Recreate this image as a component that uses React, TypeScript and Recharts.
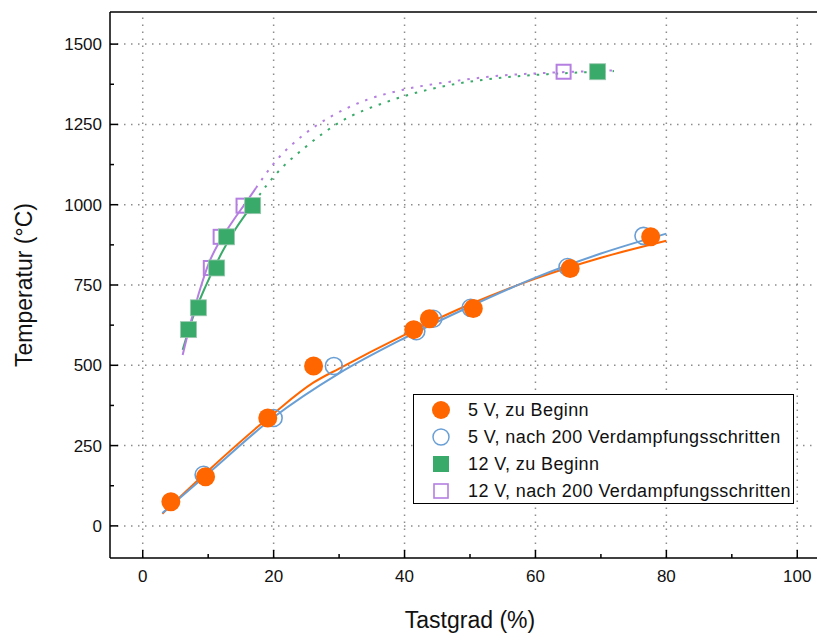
import React from "react"
import {
  ComposedChart,
  XAxis,
  YAxis,
  Scatter,
  Line,
  ReferenceLine,
  Legend,
  Label,
} from "recharts"

// measured points
const v5Start = [
  { x: 4.3, y: 75 },
  { x: 9.6, y: 153 },
  { x: 19.1, y: 336 },
  { x: 26.1, y: 498 },
  { x: 41.4, y: 611 },
  { x: 43.8, y: 645 },
  { x: 50.5, y: 677 },
  { x: 65.3, y: 801 },
  { x: 77.6, y: 900 },
]
const v5After = [
  { x: 9.3, y: 159 },
  { x: 20, y: 336 },
  { x: 29.2, y: 498 },
  { x: 41.8, y: 606 },
  { x: 44.4, y: 645 },
  { x: 50.1, y: 679 },
  { x: 64.9, y: 806 },
  { x: 76.5, y: 903 },
]
const v12Start = [
  { x: 7, y: 611 },
  { x: 8.5, y: 679 },
  { x: 11.3, y: 803 },
  { x: 12.8, y: 900 },
  { x: 16.8, y: 997 },
  { x: 69.5, y: 1414 },
]
const v12After = [
  { x: 10.4, y: 803 },
  { x: 11.9, y: 900 },
  { x: 15.4, y: 997 },
  { x: 64.3, y: 1414 },
]

// fit curves
const fit5Start = [
  { x: 3, y: 38 },
  { x: 10, y: 172 },
  { x: 20, y: 350 },
  { x: 26, y: 445 },
  { x: 30, y: 490 },
  { x: 40, y: 595 },
  { x: 50, y: 690 },
  { x: 60, y: 770 },
  { x: 70, y: 835 },
  { x: 80, y: 888 },
]
const fit5After = [
  { x: 3, y: 40 },
  { x: 10, y: 163 },
  { x: 20, y: 338 },
  { x: 30, y: 475 },
  { x: 40, y: 585 },
  { x: 50, y: 683 },
  { x: 60, y: 773 },
  { x: 70, y: 848 },
  { x: 80, y: 910 },
]
const fit12Start = [
  { x: 6.1, y: 548 },
  { x: 7.5, y: 640 },
  { x: 9.6, y: 746 },
  { x: 12.2, y: 855 },
  { x: 14.2, y: 925 },
  { x: 17, y: 1005 },
]
const fit12StartExt = [
  { x: 17, y: 1005 },
  { x: 18, y: 1035 },
  { x: 20, y: 1087 },
  { x: 24.9, y: 1180 },
  { x: 30.2, y: 1258 },
  { x: 37.4, y: 1321 },
  { x: 47, y: 1373 },
  { x: 54.7, y: 1395 },
  { x: 62.3, y: 1407 },
  { x: 72, y: 1416 },
]
const fit12After = [
  { x: 6.1, y: 532 },
  { x: 7.3, y: 631 },
  { x: 8.9, y: 746 },
  { x: 10.1, y: 818 },
  { x: 11.6, y: 880 },
  { x: 13.7, y: 947 },
  { x: 15.7, y: 1005 },
  { x: 17.3, y: 1052 },
]
const fit12AfterExt = [
  { x: 17.3, y: 1052 },
  { x: 20, y: 1128 },
  { x: 24.6, y: 1218 },
  { x: 28.7, y: 1274 },
  { x: 34.3, y: 1327 },
  { x: 39.8, y: 1358 },
  { x: 47, y: 1383 },
  { x: 54.7, y: 1402 },
  { x: 62.3, y: 1411 },
  { x: 72, y: 1418 },
]

const xTicks = [0, 10, 20, 30, 40, 50, 60, 70, 80, 90, 100]
const xGrid = [0, 20, 40, 60, 80, 100]
const yTicks = [0, 125, 250, 375, 500, 625, 750, 875, 1000, 1125, 1250, 1375, 1500]
const yGrid = [0, 250, 500, 750, 1000, 1250, 1500]

const legendItems = [
  { name: "5 V, zu Beginn", kind: "dot" },
  { name: "5 V, nach 200 Verdampfungsschritten", kind: "ring" },
  { name: "12 V, zu Beginn", kind: "square" },
  { name: "12 V, nach 200 Verdampfungsschritten", kind: "box" },
]

const ORANGE = "#ff6600"
const BLUE = "#6a9fd5"
const GREEN = "#3aaa6a"
const PURPLE = "#b47fe0"
const GRID = "#8c8c8c"

const BottomTick = (props: any) => {
  const { x, y, payload } = props
  const major = payload.value % 20 === 0
  return (
    <g>
      <line x1={x} x2={x} y1={y} y2={y - (major ? 8 : 4)} stroke="#000" strokeWidth={1.5} />
      {major && (
        <text x={x} y={y + 24} textAnchor="middle" fontSize={17} fill="#111">
          {payload.value}
        </text>
      )}
    </g>
  )
}

const TopTick = (props: any) => {
  const { x, y, payload } = props
  const major = payload.value % 20 === 0
  return <line x1={x} x2={x} y1={y} y2={y + (major ? 8 : 4)} stroke="#000" strokeWidth={1.5} />
}

const LeftTick = (props: any) => {
  const { x, y, payload } = props
  const major = payload.value % 250 === 0
  return (
    <g>
      <line x1={x} x2={x + (major ? 8 : 4)} y1={y} y2={y} stroke="#000" strokeWidth={1.5} />
      {major && (
        <text x={x - 8} y={y + 6} textAnchor="end" fontSize={17} fill="#111">
          {payload.value}
        </text>
      )}
    </g>
  )
}

const RightTick = (props: any) => {
  const { x, y, payload } = props
  const major = payload.value % 250 === 0
  return <line x1={x} x2={x - (major ? 8 : 4)} y1={y} y2={y} stroke="#000" strokeWidth={1.5} />
}

const Dot = (p: any) => <circle cx={p.cx} cy={p.cy} r={9.5} fill={ORANGE} />
const Ring = (p: any) => <circle cx={p.cx} cy={p.cy} r={8.5} fill="none" stroke={BLUE} strokeWidth={1.6} />
const Square = (p: any) => (
  <rect x={p.cx - 8} y={p.cy - 8} width={16} height={16} fill={GREEN} stroke="#9cc7b0" strokeWidth={0.8} />
)
const Box = (p: any) => (
  <rect x={p.cx - 7} y={p.cy - 7} width={14} height={14} fill="none" stroke={PURPLE} strokeWidth={2} />
)

function LegendIcon({ kind }: { kind: string }) {
  return (
    <svg width={22} height={22} style={{ position: "absolute", left: 16, top: 2 }}>
      {kind === "dot" && <circle cx={11} cy={11} r={9} fill={ORANGE} />}
      {kind === "ring" && <circle cx={11} cy={11} r={8} fill="none" stroke={BLUE} strokeWidth={1.5} />}
      {kind === "square" && <rect x={3} y={3} width={16} height={16} fill={GREEN} />}
      {kind === "box" && <rect x={4} y={4} width={14} height={14} fill="none" stroke={PURPLE} strokeWidth={1.6} />}
    </svg>
  )
}

function LegendBox() {
  return (
    <div
      style={{
        width: 381,
        height: 110,
        border: "1.5px solid #000",
        background: "#fff",
        boxSizing: "border-box",
        position: "relative",
      }}
    >
      {legendItems.map((item, i) => (
        <div
          key={item.name}
          style={{
            position: "absolute",
            left: 0,
            top: 2 + i * 27,
            height: 26,
            width: 380,
            lineHeight: "26px",
            fontSize: 18,
            letterSpacing: 0.4,
            color: "#111",
          }}
        >
          <LegendIcon kind={item.kind} />
          <span style={{ position: "absolute", left: 54, whiteSpace: "nowrap" }}>{item.name}</span>
        </div>
      ))}
    </div>
  )
}

export default function App() {
  return (
    <div
      style={{
        position: "absolute",
        left: 0,
        top: 0,
        width: 817,
        height: 633,
        overflow: "hidden",
        background: "#fff",
        fontFamily: "'Liberation Sans', Arial, sans-serif",
      }}
    >
      <ComposedChart width={850} height={633} margin={{ top: 10, right: 10, bottom: 0, left: 0 }}>
        <XAxis
          dataKey="x"
          type="number"
          domain={[-5, 105]}
          allowDataOverflow
          ticks={xTicks}
          interval={0}
          tickSize={0}
          tickMargin={0}
          tick={<BottomTick />}
          height={75}
          axisLine={{ stroke: "#000", strokeWidth: 1.5 }}
        >
          <Label
            content={({ viewBox }: any) => (
              <text
                x={viewBox.x + viewBox.width / 2}
                y={viewBox.y + 70}
                textAnchor="middle"
                fontSize={23}
                fill="#111"
              >
                Tastgrad (%)
              </text>
            )}
          />
        </XAxis>
        <XAxis
          xAxisId="top"
          orientation="top"
          type="number"
          domain={[-5, 105]}
          allowDataOverflow
          ticks={xTicks}
          interval={0}
          tickSize={0}
          tickMargin={0}
          tick={<TopTick />}
          height={2}
          axisLine={{ stroke: "#000", strokeWidth: 1.5 }}
        />
        <YAxis
          dataKey="y"
          type="number"
          domain={[-100, 1600]}
          allowDataOverflow
          ticks={yTicks}
          interval={0}
          tickSize={0}
          tickMargin={0}
          tick={<LeftTick />}
          width={110}
          axisLine={{ stroke: "#000", strokeWidth: 1.5 }}
        >
          <Label
            content={({ viewBox }: any) => {
              const cx = viewBox.x + 32
              const cy = viewBox.y + viewBox.height / 2
              return (
                <text
                  x={cx}
                  y={cy}
                  textAnchor="middle"
                  fontSize={23}
                  fill="#111"
                  transform={`rotate(-90, ${cx}, ${cy})`}
                >
                  Temperatur (°C)
                </text>
              )
            }}
          />
        </YAxis>
        <YAxis
          yAxisId="right"
          orientation="right"
          type="number"
          domain={[-100, 1600]}
          allowDataOverflow
          ticks={yTicks}
          interval={0}
          tickSize={0}
          tickMargin={0}
          tick={<RightTick />}
          width={10}
          axisLine={{ stroke: "#000", strokeWidth: 1.5 }}
        />

        {xGrid.map((v) => (
          <ReferenceLine key={"gx" + v} x={v} stroke={GRID} strokeWidth={1.5} strokeDasharray="1.5 5.5" />
        ))}
        {yGrid.map((v) => (
          <ReferenceLine key={"gy" + v} y={v} stroke={GRID} strokeWidth={1.5} strokeDasharray="1.5 5.5" />
        ))}

        <Scatter data={v5After} dataKey="y" shape={Ring} isAnimationActive={false} />
        <Scatter data={v5Start} dataKey="y" shape={Dot} isAnimationActive={false} />
        <Scatter data={v12After} dataKey="y" shape={Box} isAnimationActive={false} />
        <Scatter data={v12Start} dataKey="y" shape={Square} isAnimationActive={false} />

        <Line data={fit5Start} dataKey="y" type="monotone" stroke={ORANGE} strokeWidth={2} dot={false} isAnimationActive={false} />
        <Line data={fit5After} dataKey="y" type="monotone" stroke={BLUE} strokeWidth={2} dot={false} isAnimationActive={false} />
        <Line data={fit12Start} dataKey="y" type="monotone" stroke={GREEN} strokeWidth={2} dot={false} isAnimationActive={false} />
        <Line
          data={fit12StartExt}
          dataKey="y"
          type="monotone"
          stroke={GREEN}
          strokeWidth={2}
          strokeDasharray="2.5 7"
          dot={false}
          isAnimationActive={false}
        />
        <Line data={fit12After} dataKey="y" type="monotone" stroke={PURPLE} strokeWidth={2} dot={false} isAnimationActive={false} />
        <Line
          data={fit12AfterExt}
          dataKey="y"
          type="monotone"
          stroke={PURPLE}
          strokeWidth={2}
          strokeDasharray="2.5 7"
          dot={false}
          isAnimationActive={false}
        />

        <Legend
          layout="vertical"
          align="center"
          verticalAlign="middle"
          content={() => <LegendBox />}
          wrapperStyle={{ position: "absolute", left: 413, top: 394, width: 381, height: 110 }}
        />
      </ComposedChart>
    </div>
  )
}
